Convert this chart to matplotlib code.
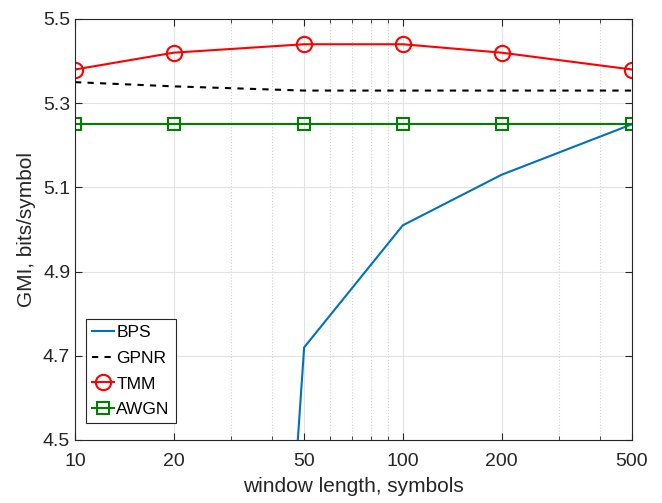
import matplotlib.pyplot as plt
from matplotlib.ticker import FixedLocator, NullFormatter

plt.rcParams["font.family"] = ["Liberation Sans", "DejaVu Sans"]

window = [10, 20, 50, 100, 200, 500]
bps = [0.1, 0.2, 4.72, 5.01, 5.13, 5.25]
gpnr = [5.35, 5.34, 5.33, 5.33, 5.33, 5.33]
tmm = [5.38, 5.42, 5.44, 5.44, 5.42, 5.38]
awgn = [5.25, 5.25, 5.25, 5.25, 5.25, 5.25]

y_ticks = [4.5, 4.7, 4.9, 5.1, 5.3, 5.5]

fig = plt.figure(figsize=(6.62, 5.03), dpi=100)
ax = fig.add_axes([75 / 662, 1 - 440 / 503, (632 - 75) / 662, (440 - 19) / 503])

ax.plot(window, bps, color="#0072BD", linewidth=1.5, label="BPS")
ax.plot(window, gpnr, color="black", linestyle=(0, (3, 3)), linewidth=1.5, label="GPNR")
ax.plot(window, tmm, color="red", linewidth=1.5, marker="o", markersize=11,
        markerfacecolor="none", markeredgewidth=1.5, label="TMM")
ax.plot(window, awgn, color="#008000", linewidth=1.5, marker="s", markersize=9,
        markerfacecolor="none", markeredgewidth=1.5, label="AWGN")

ax.set_xscale("log")
ax.set_xlim(10, 500)
ax.set_ylim(4.5, 5.5)
ax.xaxis.set_major_locator(FixedLocator(window))
ax.set_xticklabels([str(w) for w in window])
minor = [m * d for d in (10, 100) for m in range(2, 10) if 10 <= m * d <= 500]
minor = [v for v in minor if v not in window]
ax.xaxis.set_minor_locator(FixedLocator(minor))
ax.xaxis.set_minor_formatter(NullFormatter())
ax.set_yticks(y_ticks)
ax.set_yticklabels([f"{v:.1f}" for v in y_ticks])

ax.grid(True, which="major", color="#e3e3e3", linewidth=0.8)
ax.grid(True, which="minor", axis="x", color="#d0d0d0", linestyle=":", linewidth=0.8)
ax.set_axisbelow(True)

ax.tick_params(which="both", direction="in", top=True, right=True,
               labelsize=14, colors="#262626", length=5)
ax.tick_params(which="minor", length=3)
ax.tick_params(axis="x", pad=9.5)
for s in ax.spines.values():
    s.set_color("#262626")
    s.set_linewidth(0.8)

ax.set_xlabel("window length, symbols", fontsize=15, color="#262626", labelpad=5)
ax.set_ylabel("GMI, bits/symbol", fontsize=15, color="#262626", labelpad=5)

leg = ax.legend(loc="lower left", bbox_to_anchor=(0.0197, 0.04), fontsize=12.5,
                fancybox=False, edgecolor="#262626", framealpha=1,
                handlelength=1.25, handletextpad=0.15, borderpad=0.35,
                labelspacing=0.6, borderaxespad=0)
leg.get_frame().set_linewidth(0.8)

fig.savefig("out.png", dpi=100)
